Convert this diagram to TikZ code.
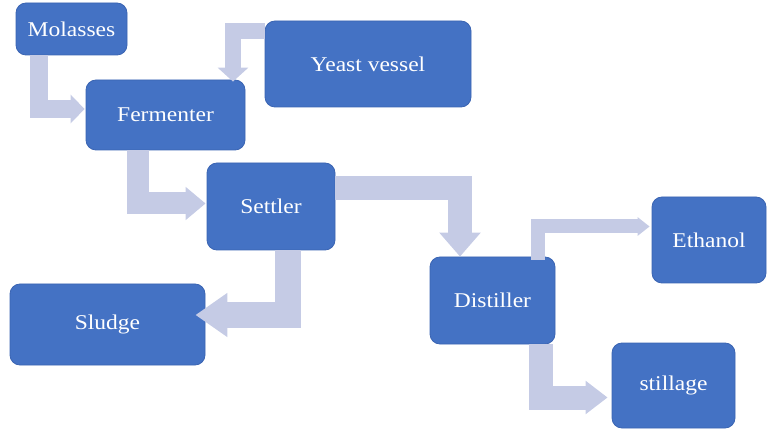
\documentclass[tikz,border=0pt]{standalone}
\usepackage{fontspec}
\setmainfont{Liberation Serif}
\newfontfamily\boxfont[FakeStretch=1.12]{Liberation Serif}
\usetikzlibrary{arrows.meta}
\definecolor{boxc}{HTML}{4472C4}
\definecolor{boxd}{HTML}{3A64B2}
\definecolor{arrc}{HTML}{C5CBE5}
\begin{document}
\begin{tikzpicture}[x=1pt,y=-1pt,
  blk/.style={draw=boxd, line width=0.8pt, fill=boxc, rounded corners=10pt, inner sep=0pt,
    text=white, font=\boxfont\fontsize{21}{24}\selectfont},
  barrow/.style n args={3}{draw=arrc, line width=#1, line join=miter,
    -{Triangle[length=#3, width=#2]}}
]
\useasboundingbox (0,0) rectangle (771,430);
\node[blk, minimum width=111pt, minimum height=52pt] (mol) at (71.5,29) {Molasses};
\node[blk, minimum width=159pt, minimum height=70pt] (fer) at (165.5,115) {Fermenter};
\node[blk, minimum width=206pt, minimum height=86pt] (yea) at (368,64) {Yeast vessel};
\node[blk, minimum width=128pt, minimum height=87pt] (set) at (271,206.5) {Settler};
\node[blk, minimum width=195pt, minimum height=81pt] (slu) at (107.5,324.5) {Sludge};
\node[blk, minimum width=125pt, minimum height=87pt] (dis) at (492.5,300.5) {Distiller};
\node[blk, minimum width=114pt, minimum height=86pt] (eth) at (709,240) {Ethanol};
\node[blk, minimum width=123pt, minimum height=85pt] (sti) at (673.5,385.5) {stillage};

\draw[barrow={18pt}{28pt}{14pt}] ([xshift=-32.5pt]mol.south) |- ([yshift=6pt,xshift=-1pt]fer.west);
\draw[barrow={16pt}{30pt}{14pt}] ([yshift=33pt]yea.west) -| ([xshift=67.5pt,yshift=-2pt]fer.north);
\draw[barrow={22pt}{32pt}{20pt}] ([xshift=-27.5pt]fer.south) |- ([yshift=3pt,xshift=-1pt]set.west);
\draw[barrow={24pt}{40pt}{24pt}] ([yshift=18.5pt]set.east) -| ([xshift=-32.5pt]dis.north);
\draw[barrow={26pt}{42pt}{32pt}] ([xshift=17pt]set.south) |- ([yshift=9.5pt,xshift=-10pt]slu.east);
\draw[barrow={14pt}{18pt}{12pt}] ([xshift=45pt,yshift=-3pt]dis.north) |- ([yshift=13.5pt,xshift=-2pt]eth.west);
\draw[barrow={24pt}{32pt}{22pt}] ([xshift=48pt]dis.south) |- ([yshift=-12pt,xshift=-4pt]sti.west);
\end{tikzpicture}
\end{document}
